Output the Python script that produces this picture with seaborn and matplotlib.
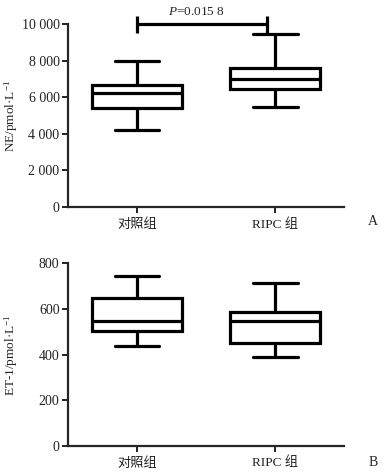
import numpy as np
import pandas as pd
import seaborn as sns
import matplotlib.pyplot as plt

# 组别
groups = ['对照组', 'RIPC 组']

# 五数概括: 最小值, Q1, 中位数, Q3, 最大值
ne_control = [4200, 5430, 6230, 6650, 7980]
ne_ripc = [5480, 6430, 7000, 7610, 9440]
et_control = [438, 501, 545, 650, 743]
et_ripc = [389, 451, 545, 587, 712]

p_text = '$P$=0.015 8'

ne_ticks = [0, 2000, 4000, 6000, 8000, 10000]
ne_ticklabels = ['0', '2 000', '4 000', '6 000', '8 000', '10 000']
et_ticks = [0, 200, 400, 600, 800]

sns.set_style('ticks')
plt.rcParams['font.family'] = ['Liberation Serif', 'Noto Sans CJK SC']
plt.rcParams['mathtext.fontset'] = 'custom'
plt.rcParams['mathtext.it'] = 'Liberation Serif:italic'
plt.rcParams['mathtext.rm'] = 'Liberation Serif'

ne_df = pd.DataFrame({'group': [groups[0]] * 5 + [groups[1]] * 5,
                      'value': ne_control + ne_ripc})
et_df = pd.DataFrame({'group': [groups[0]] * 5 + [groups[1]] * 5,
                      'value': et_control + et_ripc})

fig = plt.figure(figsize=(3.88, 4.74), dpi=100)
ax1 = fig.add_axes([0.175, 0.5633, 0.712, 0.3857])
ax2 = fig.add_axes([0.175, 0.0597, 0.712, 0.3848])

box_kws = dict(x='group', y='value', whis=(0, 100), width=0.65,
               color='white', linecolor='black', linewidth=2.3,
               showfliers=False)

sns.boxplot(data=ne_df, ax=ax1, **box_kws)
sns.boxplot(data=et_df, ax=ax2, **box_kws)

for ax in (ax1, ax2):
    ax.set_xlim(-0.5, 1.5)
    ax.set_xlabel('')
    sns.despine(ax=ax)
    ax.spines['left'].set_linewidth(1.6)
    ax.spines['bottom'].set_linewidth(1.6)
    ax.tick_params(axis='y', width=1.4, length=4, labelsize=10,
                   colors='#222222', pad=2)
    ax.tick_params(axis='x', width=1.4, length=4, labelsize=9.5,
                   colors='#222222', pad=4)
    ax.set_facecolor('none')

ax1.set_ylim(0, 10000)
ax1.set_yticks(ne_ticks)
ax1.set_yticklabels(ne_ticklabels)
ax1.set_ylabel('NE/pmol·L$^{-1}$', fontsize=9.5)
ax1.yaxis.set_label_coords(-0.175, 0.5)

ax2.set_ylim(0, 800)
ax2.set_yticks(et_ticks)
ax2.set_ylabel('ET-1/pmol·L$^{-1}$', fontsize=9.5)
ax2.yaxis.set_label_coords(-0.175, 0.5)

# 显著性标记
bx0, bx1, by, bh = 0.0, 0.94, 9990, 450
ax1.plot([bx0, bx1], [by, by], color='black', lw=2.3, clip_on=False,
         solid_capstyle='butt')
for bx in (bx0, bx1):
    ax1.plot([bx, bx], [by - bh, by + bh], color='black', lw=2.3,
             clip_on=False, solid_capstyle='butt')
ax1.text(0.43, by + 330, p_text, ha='center', va='bottom', fontsize=9.5)

fig.text(0.961, 0.533, 'A', ha='center', va='center', fontsize=10)
fig.text(0.961, 0.025, 'B', ha='center', va='center', fontsize=10)

fig.savefig('out.png', dpi=100, facecolor='white')
